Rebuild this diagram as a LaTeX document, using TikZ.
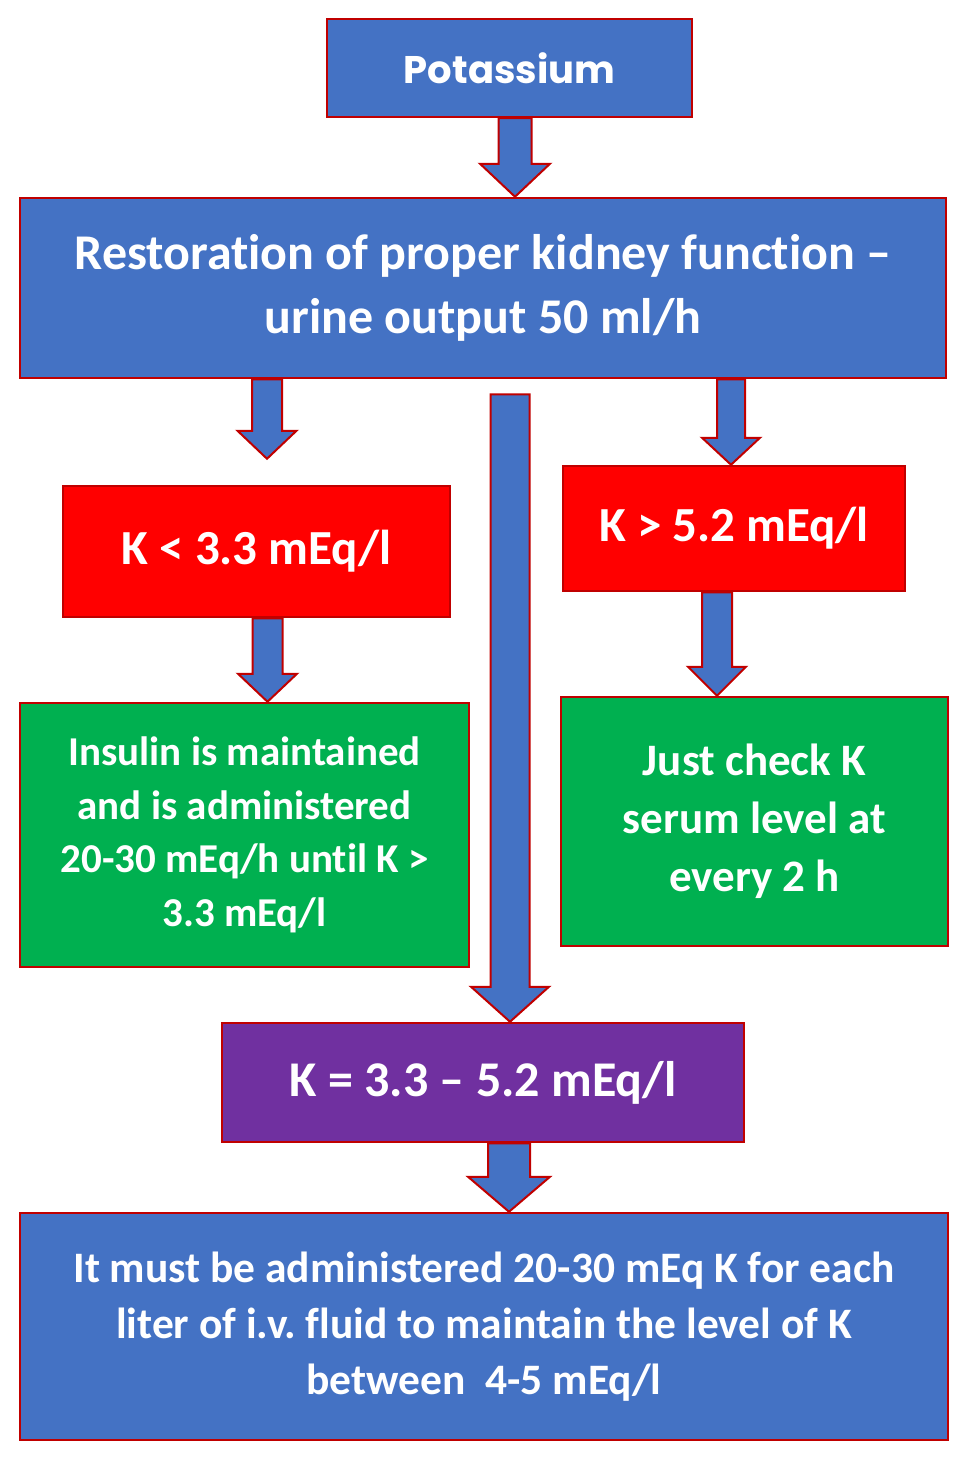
\documentclass[tikz,border=0pt]{standalone}
\usepackage{fontspec}
\setmainfont{Carlito}[Ligatures=NoCommon]
\newfontfamily\potfont{Poppins}
\usetikzlibrary{calc}
\definecolor{boxblue}{HTML}{4472C4}
\definecolor{boxred}{HTML}{FF0000}
\definecolor{boxgreen}{HTML}{00B050}
\definecolor{boxpurple}{HTML}{7030A0}
\definecolor{edgered}{HTML}{C00000}
\newcommand{\fs}[2]{\fontsize{#1}{#2}\selectfont}
% block arrow: start, end (tip), shaft half width, head half width, head length
\newcommand{\blockarrow}[5]{%
	\draw[barrow] let \p1=(#1), \p2=(#2) in
		(\x1-#3pt,\y1) -- (\x1-#3pt,\y2+#5pt) -- (\x1-#4pt,\y2+#5pt) -- (\x1,\y2)
		-- (\x1+#4pt,\y2+#5pt) -- (\x1+#3pt,\y2+#5pt) -- (\x1+#3pt,\y1) -- cycle;}
\tikzset{
	box/.style={draw=edgered, line width=2.5pt, text=white, align=center, inner sep=0pt},
	barrow/.style={draw=edgered, fill=boxblue, line width=2pt, line join=miter},
}
\frenchspacing
\begin{document}
\begin{tikzpicture}[x=1pt, y=-1pt]
		\useasboundingbox (0,0) rectangle (969,1461);
		\node[box, fill=boxblue, minimum width=365pt, minimum height=98pt, font=\potfont\bfseries\fs{38.5}{46}] (pot) at (509.5,68) {Potassium};
		\node[box, fill=boxblue, minimum width=926pt, minimum height=180pt, font=\bfseries\fs{50}{64}] (rest) at (483,288) {Restoration of proper kidney function --\\urine output 50 ml/h};
		\node[box, fill=boxred, minimum width=387pt, minimum height=131pt, font=\bfseries\fs{49}{58}] (klow) at (256.5,551.5) {K < 3.3 mEq/l};
		\node[box, fill=boxred, minimum width=342pt, minimum height=125pt, font=\bfseries\fs{49}{58}] (khigh) at (734,528.5) {K > 5.2 mEq/l};
		\node[box, fill=boxgreen, minimum width=449pt, minimum height=264pt, font=\bfseries\fs{41}{53.5}] (insulin) at (244.5,835) {Insulin is maintained\\and is administered\\20-30 mEq/h until K >\\3.3 mEq/l};
		\node[box, fill=boxgreen, minimum width=387pt, minimum height=249pt, font=\bfseries\fs{45}{58}] (check) at (754.5,821.5) {Just check K\\serum level at\\every 2 h};
		\node[box, fill=boxpurple, minimum width=522pt, minimum height=119pt, font=\bfseries\fs{50}{60}] (knorm) at (483,1082.5) {K = 3.3 -- 5.2 mEq/l};
		\node[box, fill=boxblue, minimum width=928pt, minimum height=227pt, font=\bfseries\fs{43.5}{56}] (admin) at (484,1326.5) {It must be administered 20-30 mEq K for each\\liter of i.v. fluid to maintain the level of K\\between\ \ 4-5 mEq/l};
		% arrows
		\blockarrow{$(pot.south)+(5.5,0)$}{rest.north}{16.5}{35}{33}
		\blockarrow{$(rest.south -| klow.north)+(10.5,0)$}{$(klow.north)+(0,-26)$}{15}{29.5}{28}
		\blockarrow{$(rest.south)+(27,15)$}{knorm.north}{19.5}{39}{35}
		\blockarrow{$(rest.south -| khigh.north)+(-3,0)$}{khigh.north}{14}{29}{27}
		\blockarrow{$(klow.south)+(11,0)$}{insulin.north}{15}{29.5}{28}
		\blockarrow{$(khigh.south)+(-17,0)$}{check.north}{15}{29}{29}
		\blockarrow{$(knorm.south)+(26,0)$}{admin.north}{21}{41}{35}
\end{tikzpicture}
\end{document}
